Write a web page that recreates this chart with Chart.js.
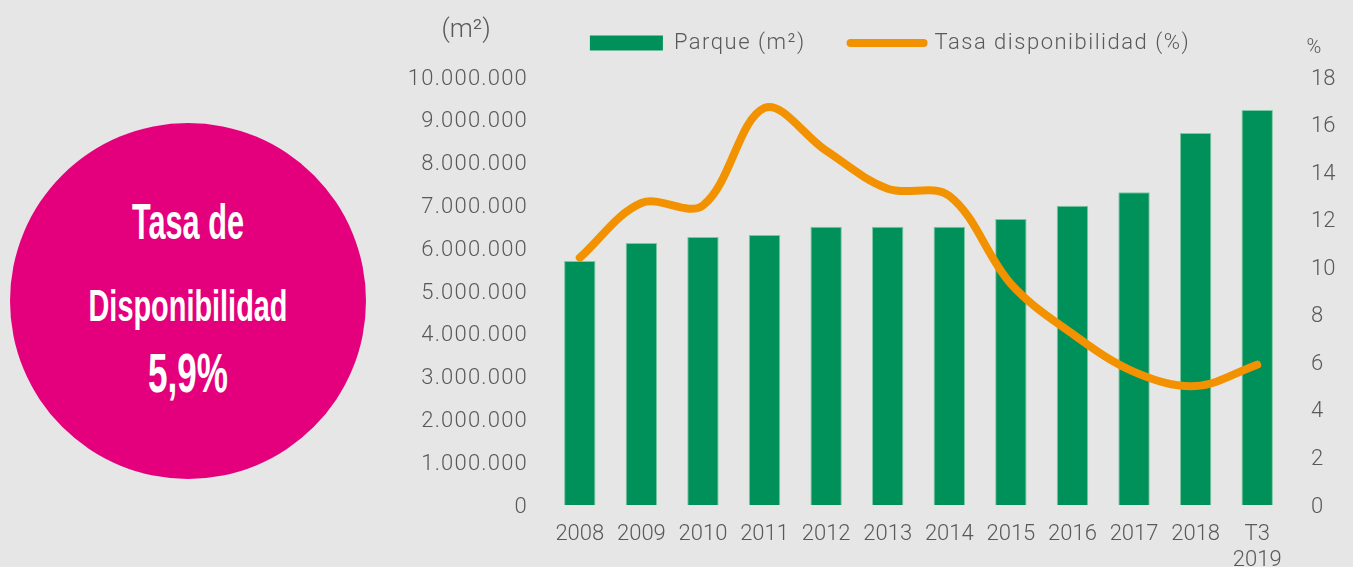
<!DOCTYPE html>
<html lang="es">
<head>
<meta charset="utf-8">
<title>Tasa de disponibilidad</title>
<script src="https://cdn.jsdelivr.net/npm/chart.js@4.4.0/dist/chart.umd.min.js"></script>
<style>
  html, body { margin: 0; padding: 0; background: #e6e6e6; }
  body { width: 1353px; height: 567px; position: relative; overflow: hidden; }
  #wrap { position: absolute; left: 0; top: 0; width: 1353px; height: 567px; }
  #circle { position: absolute; left: 10px; top: 123px; width: 356px; height: 356px; border-radius: 50%; background: #e4007c; }
  .big { position: absolute; left: 0; width: 376px; text-align: center; color: #fff;
         font-family: "Liberation Sans Narrow", "Liberation Sans", sans-serif; font-weight: bold;
         line-height: 1; white-space: nowrap; transform-origin: 50% 50%; }
</style>
</head>
<body>
<div id="wrap"><canvas id="chart"></canvas></div>
<div id="circle"></div>
<div class="big" id="l1" data-w="112" style="top:197px;font-size:50px"><span>Tasa de</span></div>
<div class="big" id="l2" data-w="199" style="top:284px;font-size:44px"><span>Disponibilidad</span></div>
<div class="big" id="l3" data-w="80" style="top:346px;font-size:55px"><span>5,9%</span></div>
<script>
// datos
const years = ['2008', '2009', '2010', '2011', '2012', '2013', '2014', '2015', '2016', '2017', '2018', ['T3', '2019']];
const parque = [5700000, 6120000, 6260000, 6310000, 6500000, 6500000, 6500000, 6680000, 6990000, 7310000, 8690000, 9230000];
const tasa = [10.4, 12.7, 12.6, 16.7, 14.9, 13.3, 13.0, 9.3, 7.2, 5.6, 5.0, 5.9];
const parqueAxis = [0, 10000000, 1000000];   // min, max, step
const tasaAxis = [0, 18, 2];

const grey = '#595959';
const green = '#00915a';
const orange = '#f39200';

// squeeze the circle text to the widths of the original lettering
document.querySelectorAll('.big').forEach(el => {
  const w = el.querySelector('span').getBoundingClientRect().width;
  el.style.transform = 'scaleX(' + (el.dataset.w / w) + ')';
});

Chart.defaults.font.family = 'Roboto';
Chart.defaults.font.weight = 300;
Chart.defaults.color = grey;

// run a method of an element with some letter spacing on the canvas
function spaced(obj, fn, px) {
  const orig = obj[fn].bind(obj);
  obj[fn] = function (...args) {
    const c = this.ctx;
    const prev = c.letterSpacing;
    c.letterSpacing = px;
    const r = orig(...args);
    c.letterSpacing = prev;
    return r;
  };
}

const letterSpacing = {
  id: 'letterSpacing',
  beforeLayout(chart) {
    if (chart._spaced) return;
    chart._spaced = true;
    spaced(chart.legend, 'fit', '1.5px');
    spaced(chart.legend, 'draw', '1.5px');
  },
  afterLayout(chart) {
    const y = chart.scales.y;
    if (y && !y._spaced) {
      y._spaced = true;
      spaced(y, 'drawLabels', '1.2px');
    }
  }
};

const unitLabels = {
  id: 'unitLabels',
  afterDraw(chart) {
    const {ctx, scales: {y, y1}} = chart;
    ctx.save();
    ctx.fillStyle = grey;
    ctx.textAlign = 'center';
    ctx.textBaseline = 'middle';
    ctx.font = '300 26px Roboto';
    ctx.fillText('(m²)', y.right - 83, 30);
    ctx.font = '300 20px Roboto';
    ctx.fillText('%', y1.left + 26, 48);
    ctx.restore();
  }
};

const ctx = document.getElementById('chart').getContext('2d');
new Chart(ctx, {
  type: 'bar',
  data: {
    labels: years,
    datasets: [{
      label: 'Parque (m²)',
      data: parque,
      backgroundColor: green,
      borderColor: '#7cc7a4',
      borderWidth: 1,
      barPercentage: 0.51,
      categoryPercentage: 1,
      yAxisID: 'y',
      order: 1
    }, {
      type: 'line',
      label: 'Tasa disponibilidad (%)',
      data: tasa,
      borderColor: orange,
      backgroundColor: orange,
      borderWidth: 8,
      borderCapStyle: 'round',
      borderJoinStyle: 'round',
      pointRadius: 0,
      tension: 0.35,
      yAxisID: 'y1',
      order: 0
    }]
  },
  options: {
    responsive: true,
    maintainAspectRatio: false,
    animation: false,
    // uneven side padding keeps the legend centred where the original has it
    layout: { padding: { left: 395, right: -32, top: -13, bottom: 0 } },
    plugins: {
      tooltip: { enabled: false },
      legend: {
        position: 'top',
        labels: {
          font: { size: 22 },
          color: grey,
          usePointStyle: true,
          pointStyleWidth: 73,
          boxHeight: 15,
          padding: 45,
          sort: (a, b) => a.datasetIndex - b.datasetIndex,
          generateLabels(chart) {
            const items = Chart.defaults.plugins.legend.labels.generateLabels(chart);
            items.forEach(it => {
              if (it.datasetIndex === 0) {
                it.pointStyle = 'rect';
                it.fillStyle = green;
                it.lineWidth = 0;
              } else {
                it.pointStyle = 'line';
                it.strokeStyle = orange;
                it.lineWidth = 8;
                it.lineCap = 'round';
              }
            });
            return items;
          }
        }
      },
      // empty title used only as a gap between legend and plot
      title: { display: true, text: ' ', weight: 500, font: { size: 1, lineHeight: 1 }, padding: { top: 12, bottom: 0 } }
    },
    scales: {
      x: {
        grid: { display: false, drawTicks: false },
        border: { display: false },
        ticks: { font: { size: 22 }, color: grey, padding: 16, maxRotation: 0, autoSkip: false },
        afterFit: s => { s.height = 62; }
      },
      y: {
        position: 'left',
        min: parqueAxis[0],
        max: parqueAxis[1],
        grid: { display: false, drawTicks: false },
        border: { display: false },
        ticks: {
          stepSize: parqueAxis[2],
          font: { size: 22 },
          color: grey,
          padding: 21,
          labelOffset: 2,
          callback: v => v.toLocaleString('de-DE')
        },
        afterFit: s => { s.width = 154; }
      },
      y1: {
        position: 'right',
        min: tasaAxis[0],
        max: tasaAxis[1],
        grid: { display: false, drawTicks: false },
        border: { display: false },
        ticks: { stepSize: tasaAxis[2], font: { size: 22 }, color: grey, padding: 23, labelOffset: 2 },
        afterFit: s => { s.width = 97; }
      }
    }
  },
  plugins: [letterSpacing, unitLabels]
});
</script>
</body>
</html>
